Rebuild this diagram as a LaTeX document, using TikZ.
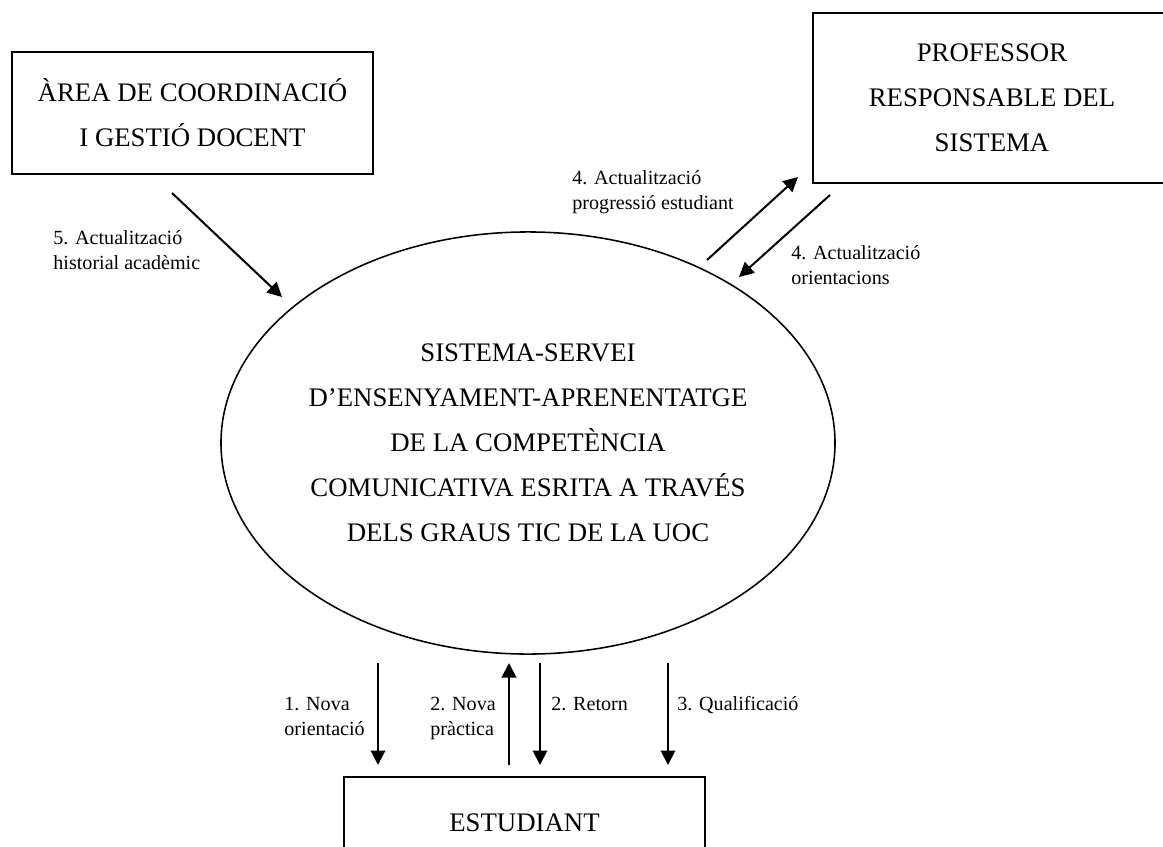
\documentclass[tikz,border=0pt]{standalone}
\usepackage{fontspec}
\setmainfont{Liberation Serif}
\usepackage{tikz}
\usetikzlibrary{arrows.meta,shapes.geometric}
\tikzstyle{line} = [draw, line width=0.9pt, -{Triangle[length=6.5pt,width=6.5pt]}]
\tikzstyle{block} = [draw, line width=0.9pt, inner sep=0pt, align=center, font=\fontsize{12}{20.2}\selectfont]
\tikzstyle{flowlabel} = [inner sep=0pt, anchor=base west, align=left, font=\fontsize{9}{10.8}\selectfont]

\begin{document}
\begin{tikzpicture}[x=0.448pt,y=-0.448pt]
    \useasboundingbox (0,0) rectangle (1163,847);

        % entitats externes
        \node[block,minimum width=161.7pt,minimum height=54.7pt] (ACGD) at (192.5,113) {ÀREA DE COORDINACIÓ\\I GESTIÓ DOCENT};
        \node[block,minimum width=160.4pt,minimum height=76.2pt] (PRS) at (992,98) {PROFESSOR\\RESPONSABLE DEL\\SISTEMA};
        \node[block,minimum width=161.7pt,minimum height=41.2pt] (EST) at (524.5,823) {ESTUDIANT};

        % el sistema
        \node[draw,ellipse,line width=0.7pt,minimum width=275.1pt,minimum height=189.1pt] (SIS) at (528,443) {};
        \node[align=center,font=\fontsize{12}{20.2}\selectfont] (SIStext) at (SIS.center) {SISTEMA-SERVEI\\D’ENSENYAMENT-APRENENTATGE\\DE LA COMPETÈNCIA\\COMUNICATIVA ESRITA A TRAVÉS\\DELS GRAUS TIC DE LA UOC};

        % fluxos
        \coordinate (f5a) at (172,193);  \coordinate (f5b) at (282,297);
        \coordinate (f4a) at (707,260);  \coordinate (f4b) at (798,177);
        \coordinate (f4c) at (830,195);  \coordinate (f4d) at (739,277);
        \coordinate (f1a) at (378,663);  \coordinate (f1b) at (378,765);
        \coordinate (f2a) at (509,765);  \coordinate (f2b) at (509,663);
        \coordinate (f2c) at (540,663);  \coordinate (f2d) at (540,765);
        \coordinate (f3a) at (668,663);  \coordinate (f3b) at (668,765);

        \draw[line] (f5a) -- (f5b);
        \draw[line] (f4a) -- (f4b);
        \draw[line] (f4c) -- (f4d);
        \draw[line] (f1a) -- (f1b);
        \draw[line] (f2a) -- (f2b);
        \draw[line] (f2c) -- (f2d);
        \draw[line] (f3a) -- (f3b);

        % etiquetes (a la linia base de l'ultima linia)
        \node[flowlabel] (f5lab) at (53,269) {5. Actualització\\historial acadèmic};
        \node[flowlabel] (f4lab) at (572,209) {4. Actualització\\progressió estudiant};
        \node[flowlabel] (f4olab) at (791,284) {4. Actualització\\orientacions};
        \node[flowlabel] (f1lab) at (284,735) {1. Nova\\orientació};
        \node[flowlabel] (f2lab) at (430,735) {2. Nova\\pràctica};
        \node[flowlabel] (f2rlab) at (551,710) {2. Retorn};
        \node[flowlabel] (f3lab) at (677,710) {3. Qualificació};

    \end{tikzpicture}
\end{document}
